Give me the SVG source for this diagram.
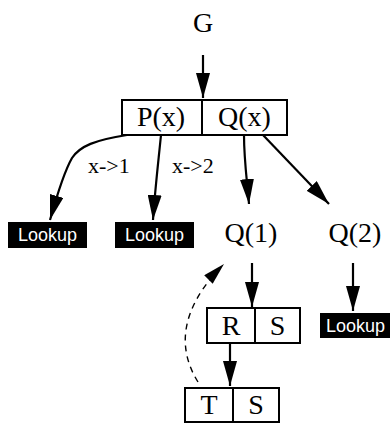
<svg xmlns="http://www.w3.org/2000/svg" width="391" height="423" viewBox="0 0 391 423">
<defs>
<style>
.t{font-family:"Liberation Serif","Times New Roman",serif;font-size:28px;fill:#000;text-anchor:middle}
.lbl{font-family:"Liberation Serif","Times New Roman",serif;font-size:22px;fill:#000}
.lk{font-family:"Liberation Sans",Arial,sans-serif;font-size:18px;fill:#fff;text-anchor:middle}
.box{fill:#fff;stroke:#000;stroke-width:2}
.e{fill:none;stroke:#000;stroke-width:2.2}
.d{fill:none;stroke:#000;stroke-width:1.4;stroke-dasharray:6,5}
</style>
<marker id="ah" viewBox="0 0 25 14" refX="25" refY="7" markerWidth="25" markerHeight="14" markerUnits="userSpaceOnUse" orient="auto">
<path d="M0,0 L25,7 L0,14 z" fill="#000"/>
</marker>
<marker id="ahs" viewBox="0 0 22 12" refX="22" refY="6" markerWidth="22" markerHeight="12" markerUnits="userSpaceOnUse" orient="auto">
<path d="M0,0 L22,6 L0,12 z" fill="#000"/>
</marker>
</defs>
<g id="connectors">
<path class="e" d="M203,55 L203,98" marker-end="url(#ah)"/>
<path class="e" d="M127,135 C95,140 80,146 72,158 C64,172 57,195 50,220" marker-end="url(#ah)"/>
<path class="e" d="M161,135 C158,165 155,190 153,220" marker-end="url(#ah)"/>
<path class="e" d="M244,135 C244,160 247,180 249,204" marker-end="url(#ah)"/>
<path class="e" d="M263,135 L329,204" marker-end="url(#ah)"/>
<path class="e" d="M252,263 L252,307" marker-end="url(#ah)"/>
<path class="e" d="M353,263 L353,311" marker-end="url(#ah)"/>
<path class="e" d="M230,343 L230,386" marker-end="url(#ah)"/>
<path class="d" d="M198,382 C178,350 178,310 224,264" marker-end="url(#ahs)"/>
<text class="lbl" x="88" y="173">x-&gt;1</text>
<text class="lbl" x="172" y="173">x-&gt;2</text>
</g>
<g id="G"><text class="t" x="203" y="32">G</text></g>
<g id="PQ">
<rect class="box" x="122" y="100" width="165" height="35"/>
<line x1="202" y1="100" x2="202" y2="135" stroke="#000" stroke-width="2"/>
<text class="t" x="161" y="126">P(x)</text>
<text class="t" x="244.5" y="126">Q(x)</text>
</g>
<g id="lookup1">
<rect x="8" y="222" width="79" height="26" fill="#000"/>
<text class="lk" x="47.5" y="241">Lookup</text>
</g>
<g id="lookup2">
<rect x="115" y="222" width="79" height="26" fill="#000"/>
<text class="lk" x="154.5" y="241">Lookup</text>
</g>
<g id="Q1"><text class="t" x="251" y="242">Q(1)</text></g>
<g id="Q2"><text class="t" x="355" y="242">Q(2)</text></g>
<g id="RS">
<rect class="box" x="207" y="308" width="93" height="35"/>
<line x1="255" y1="308" x2="255" y2="343" stroke="#000" stroke-width="2"/>
<text class="t" x="231" y="335">R</text>
<text class="t" x="277.5" y="335">S</text>
</g>
<g id="lookup3">
<rect x="320" y="313" width="70" height="25" fill="#000"/>
<text class="lk" x="355.5" y="331.5">Lookup</text>
</g>
<g id="TS">
<rect class="box" x="185" y="388" width="94" height="34"/>
<line x1="233" y1="388" x2="233" y2="422" stroke="#000" stroke-width="2"/>
<text class="t" x="209" y="414">T</text>
<text class="t" x="256" y="414">S</text>
</g>
</svg>
